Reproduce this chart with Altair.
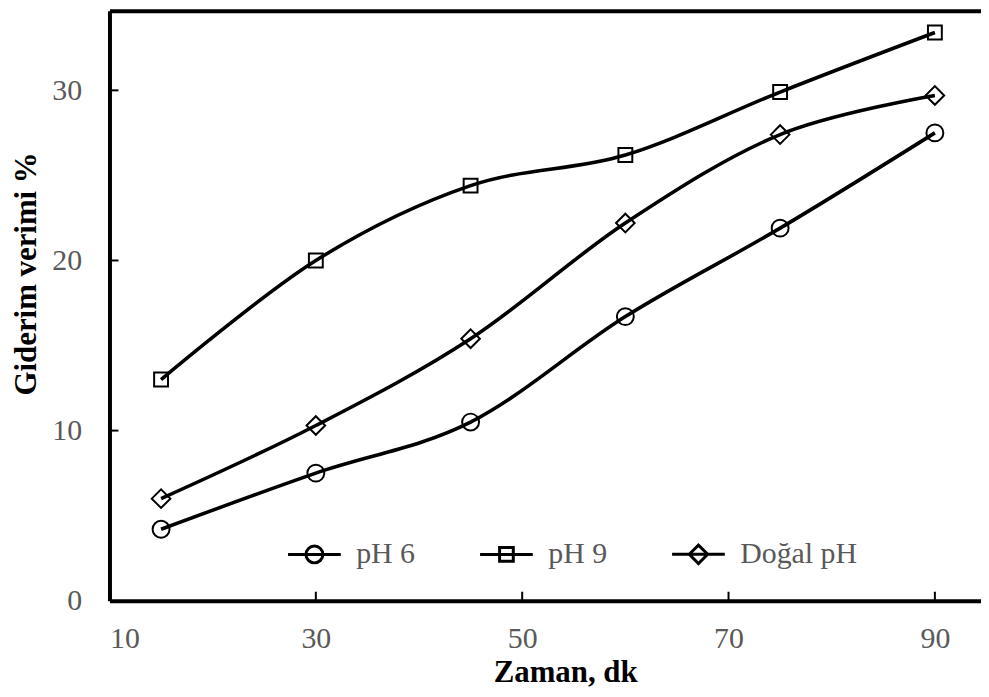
import altair as alt
import pandas as pd

times = [15, 30, 45, 60, 75, 90]
ph6 = [4.2, 7.5, 10.5, 16.7, 21.9, 27.5]
ph9 = [13.0, 20.0, 24.4, 26.2, 29.9, 33.4]
dogal = [6.0, 10.3, 15.4, 22.2, 27.4, 29.7]
series = ["pH 6", "pH 9", "Doğal pH"]
x_ticks = [30, 50, 70, 90]
y_ticks = [10, 20, 30]

rows = []
for name, vals in zip(series, [ph6, ph9, dogal]):
    for t, v in zip(times, vals):
        rows.append({"t": t, "v": v, "s": name})
df = pd.DataFrame(rows)

W, H = 876, 593
FONT = "Liberation Serif"
GREY = "#595959"

xscale = alt.Scale(domain=[10, 94.47], nice=False, zero=False)
yscale = alt.Scale(domain=[0, 34.68], nice=False, zero=False)

yaxis = alt.Axis(values=[0, 10, 20, 30], ticks=False, grid=False, domainColor="black",
                 domainWidth=4, labelFont=FONT, labelFontSize=30, labelColor=GREY,
                 labelPadding=28, title="Giderim verimi %", titleFont=FONT,
                 titleFontSize=31, titleFontWeight="bold", titleColor="black",
                 titleX=-83, titleY=264, titleBaseline="middle", titleAlign="center")
xaxis = alt.Axis(values=[10, 30, 50, 70, 90], ticks=False, grid=False, domainColor="black",
                 domainWidth=4, labelFont=FONT, labelFontSize=30, labelColor=GREY,
                 labelPadding=23, title="Zaman, dk", titleFont=FONT, titleFontSize=31,
                 titleFontWeight="bold", titleColor="black", titleX=458, titleY=81,
                 titleBaseline="alphabetic", titleAlign="center")
topaxis = alt.Axis(orient="top", labels=False, ticks=False, grid=False, domainColor="black",
                   domainWidth=4, title=None)

marker_paths = [
    "M1,0A1,1 0 1,1 -1,0A1,1 0 1,1 1,0Z",
    "M-0.82,-0.82L0.82,-0.82L0.82,0.82L-0.82,0.82Z",
    "M-1.1,0L0,-1.1L1.1,0L0,1.1Z",
]
legend_paths = [
    "M-1,0L1,0M0.32,0A0.32,0.32 0 1,1 -0.32,0A0.32,0.32 0 1,1 0.32,0",
    "M-1,0L1,0M-0.26,-0.26L0.26,-0.26L0.26,0.26L-0.26,0.26Z",
    "M-1,0L1,0M-0.35,0L0,-0.35L0.35,0L0,0.35Z",
]

base = alt.Chart(df)

lines = base.mark_line(interpolate="cardinal", color="black", strokeWidth=3.6).encode(
    x=alt.X("t:Q", scale=xscale, axis=xaxis),
    y=alt.Y("v:Q", scale=yscale, axis=yaxis),
    detail="s:N",
)

points = base.mark_point(filled=False, color="black", strokeWidth=2, size=289, opacity=1).encode(
    x=alt.X("t:Q", scale=xscale, axis=None),
    y=alt.Y("v:Q", scale=yscale, axis=yaxis),
    shape=alt.Shape("s:N", scale=alt.Scale(domain=series, range=marker_paths), legend=None),
)

legend_layer = base.transform_filter("datum.t < 0").mark_point(
    filled=False, color="black", strokeWidth=3, size=2809, opacity=1
).encode(
    x=alt.X("t:Q", scale=xscale, axis=topaxis),
    y=alt.Y("v:Q", scale=yscale, axis=yaxis),
    shape=alt.Shape("s:N", scale=alt.Scale(domain=series, range=legend_paths),
                    legend=alt.Legend(title=None, orient="none", legendX=178, legendY=518,
                                      direction="horizontal", labelFont=FONT, labelFontSize=30,
                                      labelColor=GREY, labelOffset=14, columnPadding=58,
                                      symbolSize=2809, symbolStrokeWidth=3, symbolStrokeColor="black",
                                      symbolFillColor="transparent", padding=0)),
)

ytick_df = pd.DataFrame({"v": y_ticks})
xtick_df = pd.DataFrame({"t": x_ticks})

yticks = alt.Chart(ytick_df).mark_rule(color="black", strokeWidth=2).encode(
    y=alt.Y("v:Q", scale=yscale, axis=yaxis),
    x=alt.value(0),
    x2=alt.value(9),
)
xticks = alt.Chart(xtick_df).mark_rule(color="black", strokeWidth=2).encode(
    x=alt.X("t:Q", scale=xscale, axis=None),
    y=alt.value(H),
    y2=alt.value(H - 9),
)

chart = alt.layer(lines, points, legend_layer, yticks, xticks).resolve_scale(
    shape="independent"
).resolve_axis(x="independent").properties(
    width=W, height=H,
    autosize=alt.AutoSizeParams(type="none"),
    padding={"left": 102, "top": 1, "right": 0, "bottom": 87},
    background="white",
).configure_view(stroke=None)

chart.save("out.html", embed_options={"renderer": "svg", "actions": False})
